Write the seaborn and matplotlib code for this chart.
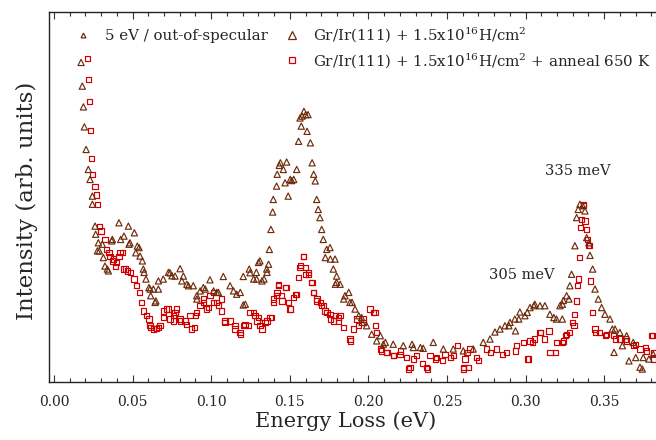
import matplotlib
matplotlib.use('Agg')
import matplotlib.pyplot as plt
import numpy as np
import pandas as pd
import seaborn as sns
from matplotlib.lines import Line2D
from matplotlib.ticker import MultipleLocator

# energy loss (eV) and intensity (arb. units)
h_x = [0.0172, 0.0180, 0.0187, 0.0193, 0.0204, 0.0218, 0.0229, 0.0244, 0.0244, 0.0261,
       0.0265, 0.0276, 0.0282, 0.0288, 0.0307, 0.0314, 0.0324, 0.0339, 0.0346, 0.0367,
       0.0371, 0.0413, 0.0424, 0.0445, 0.0473, 0.0477, 0.0483, 0.0511, 0.0520, 0.0530,
       0.0541, 0.0547, 0.0562, 0.0568, 0.0573, 0.0585, 0.0604, 0.0611, 0.0615, 0.0632,
       0.0643, 0.0648, 0.0664, 0.0664, 0.0695, 0.0728, 0.0738, 0.0750, 0.0770, 0.0802,
       0.0813, 0.0823, 0.0845, 0.0855, 0.0886, 0.0908, 0.0909, 0.0930, 0.0950, 0.0962,
       0.0992, 0.1015, 0.1035, 0.1046, 0.1077, 0.1120, 0.1142, 0.1162, 0.1185, 0.1204,
       0.1204, 0.1217, 0.1242, 0.1247, 0.1270, 0.1287, 0.1289, 0.1301, 0.1310, 0.1323,
       0.1336, 0.1353, 0.1355, 0.1365, 0.1370, 0.1380, 0.1391, 0.1395, 0.1416, 0.1420,
       0.1433, 0.1440, 0.1459, 0.1470, 0.1480, 0.1490, 0.1503, 0.1512, 0.1525, 0.1544,
       0.1556, 0.1565, 0.1573, 0.1578, 0.1590, 0.1601, 0.1610, 0.1616, 0.1631, 0.1642,
       0.1652, 0.1662, 0.1671, 0.1681, 0.1692, 0.1703, 0.1713, 0.1726, 0.1735, 0.1756,
       0.1758, 0.1777, 0.1788, 0.1790, 0.1798, 0.1798, 0.1820, 0.1843, 0.1851, 0.1875,
       0.1883, 0.1896, 0.1915, 0.1939, 0.1957, 0.1960, 0.1989, 0.2021, 0.2053, 0.2076,
       0.2095, 0.2108, 0.2158, 0.2222, 0.2278, 0.2286, 0.2331, 0.2349, 0.2413, 0.2477,
       0.2540, 0.2604, 0.2667, 0.2731, 0.2774, 0.2805, 0.2837, 0.2869, 0.2894, 0.2901,
       0.2932, 0.2936, 0.2957, 0.2964, 0.2996, 0.3011, 0.3028, 0.3053, 0.3059, 0.3092,
       0.3123, 0.3155, 0.3180, 0.3197, 0.3219, 0.3234, 0.3234, 0.3240, 0.3261, 0.3276,
       0.3282, 0.3293, 0.3314, 0.3325, 0.3335, 0.3346, 0.3363, 0.3378, 0.3389, 0.3403,
       0.3410, 0.3427, 0.3442, 0.3463, 0.3484, 0.3505, 0.3537, 0.3552, 0.3563, 0.3569,
       0.3600, 0.3616, 0.3643, 0.3658, 0.3685, 0.3701, 0.3728, 0.3743, 0.3749, 0.3785,
       0.3812]
h_y = [86.3, 79.9, 74.3, 68.9, 62.8, 57.4, 54.7, 50.2, 48.0, 42.1,
       39.9, 35.4, 37.6, 35.4, 37.2, 33.6, 31.3, 30.5, 30.0, 38.1,
       38.5, 43.0, 38.5, 39.4, 42.1, 37.2, 37.6, 40.3, 34.9, 36.7,
       36.3, 34.0, 32.7, 30.5, 29.6, 27.8, 25.5, 25.1, 23.3, 25.1,
       21.5, 21.9, 27.3, 25.1, 27.8, 29.6, 29.5, 28.7, 28.6, 30.6,
       27.3, 28.6, 26.4, 26.0, 26.0, 23.3, 22.4, 24.6, 25.5, 25.1,
       27.6, 24.6, 24.2, 24.2, 28.5, 26.0, 24.6, 23.7, 24.2, 20.8,
       28.5, 21.0, 30.5, 29.5, 27.8, 29.6, 27.8, 32.3, 32.7, 27.3,
       27.8, 30.5, 29.6, 31.8, 35.8, 41.2, 45.9, 49.3, 52.9, 56.1,
       58.5, 59.2, 57.4, 53.8, 59.4, 50.2, 54.7, 54.4, 54.7, 57.4,
       65.0, 71.3, 69.1, 71.8, 73.1, 72.2, 67.7, 72.2, 64.6, 59.2,
       56.1, 54.3, 49.3, 46.6, 44.4, 41.2, 38.5, 33.6, 35.8, 36.3,
       33.2, 30.5, 33.2, 26.4, 26.9, 28.6, 26.4, 22.4, 23.3, 24.2,
       21.5, 21.5, 19.7, 17.9, 17.4, 16.1, 15.2, 12.9, 11.1, 12.5,
       10.2, 10.7, 10.2, 9.8, 10.2, 9.3, 9.3, 9.1, 10.7, 8.9,
       8.9, 8.4, 8.9, 10.7, 11.6, 13.5, 14.3, 15.2, 15.2, 16.1,
       17.0, 13.8, 17.0, 18.9, 17.9, 18.8, 20.1, 20.6, 21.0, 20.6,
       20.6, 18.3, 17.4, 17.0, 20.6, 21.0, 17.0, 22.0, 23.3, 22.4,
       26.0, 29.1, 36.8, 44.4, 46.6, 48.0, 47.6, 46.2, 39.0, 37.6,
       34.2, 30.5, 25.1, 22.4, 20.1, 18.3, 17.0, 14.3, 8.0, 14.3,
       13.4, 9.8, 12.5, 5.7, 10.7, 6.6, 4.0, 3.5, 6.6, 6.2,
       7.5]

a_x = [0.0212, 0.0218, 0.0225, 0.0233, 0.0240, 0.0246, 0.0261, 0.0271, 0.0278, 0.0288,
       0.0299, 0.0324, 0.0335, 0.0350, 0.0356, 0.0371, 0.0377, 0.0392, 0.0399, 0.0413,
       0.0420, 0.0435, 0.0441, 0.0456, 0.0466, 0.0488, 0.0509, 0.0526, 0.0543, 0.0558,
       0.0568, 0.0590, 0.0604, 0.0611, 0.0615, 0.0632, 0.0653, 0.0664, 0.0674, 0.0695,
       0.0696, 0.0717, 0.0728, 0.0738, 0.0759, 0.0759, 0.0770, 0.0780, 0.0802, 0.0803,
       0.0833, 0.0845, 0.0865, 0.0877, 0.0893, 0.0898, 0.0908, 0.0929, 0.0950, 0.0951,
       0.0971, 0.0983, 0.0992, 0.1013, 0.1015, 0.1036, 0.1045, 0.1067, 0.1067, 0.1088,
       0.1088, 0.1120, 0.1151, 0.1152, 0.1183, 0.1184, 0.1205, 0.1215, 0.1237, 0.1247,
       0.1270, 0.1279, 0.1291, 0.1302, 0.1310, 0.1323, 0.1342, 0.1355, 0.1374, 0.1386,
       0.1395, 0.1397, 0.1416, 0.1418, 0.1427, 0.1429, 0.1448, 0.1450, 0.1471, 0.1476,
       0.1493, 0.1501, 0.1503, 0.1522, 0.1535, 0.1544, 0.1554, 0.1565, 0.1567, 0.1586,
       0.1588, 0.1599, 0.1601, 0.1618, 0.1620, 0.1640, 0.1641, 0.1650, 0.1652, 0.1671,
       0.1673, 0.1694, 0.1703, 0.1715, 0.1724, 0.1737, 0.1756, 0.1758, 0.1777, 0.1790,
       0.1809, 0.1811, 0.1820, 0.1843, 0.1883, 0.1885, 0.1906, 0.1926, 0.1939, 0.1968,
       0.1970, 0.2010, 0.2034, 0.2042, 0.2045, 0.2053, 0.2076, 0.2085, 0.2116, 0.2119,
       0.2158, 0.2161, 0.2201, 0.2204, 0.2244, 0.2257, 0.2265, 0.2289, 0.2307, 0.2342,
       0.2371, 0.2374, 0.2392, 0.2427, 0.2434, 0.2470, 0.2487, 0.2522, 0.2540, 0.2565,
       0.2604, 0.2607, 0.2615, 0.2628, 0.2638, 0.2646, 0.2689, 0.2702, 0.2753, 0.2777,
       0.2816, 0.2852, 0.2879, 0.2936, 0.2943, 0.2985, 0.3011, 0.3017, 0.3028, 0.3043,
       0.3059, 0.3092, 0.3096, 0.3123, 0.3149, 0.3155, 0.3191, 0.3197, 0.3234, 0.3240,
       0.3255, 0.3261, 0.3282, 0.3299, 0.3308, 0.3314, 0.3325, 0.3329, 0.3335, 0.3342,
       0.3351, 0.3357, 0.3367, 0.3371, 0.3378, 0.3389, 0.3395, 0.3403, 0.3406, 0.3414,
       0.3427, 0.3442, 0.3446, 0.3473, 0.3510, 0.3516, 0.3558, 0.3573, 0.3600, 0.3637,
       0.3643, 0.3685, 0.3701, 0.3728, 0.3764, 0.3770, 0.3802, 0.3806, 0.3812, 0.3817]
a_y = [87.3, 81.8, 75.8, 67.9, 60.3, 56.1, 52.9, 50.5, 48.0, 42.1,
       40.8, 38.5, 35.8, 34.9, 34.0, 32.7, 33.2, 31.3, 32.2, 34.0,
       34.9, 34.9, 30.5, 30.5, 30.0, 29.5, 27.8, 26.0, 24.2, 21.5,
       19.2, 17.9, 17.0, 15.2, 14.7, 14.3, 14.4, 14.7, 15.2, 17.4,
       19.2, 19.7, 19.7, 17.0, 17.9, 16.5, 18.8, 19.7, 17.0, 16.5,
       16.5, 15.6, 17.9, 14.3, 14.7, 17.9, 18.8, 20.6, 21.5, 22.4,
       19.7, 20.1, 23.3, 21.5, 24.2, 21.5, 20.6, 19.2, 22.4, 16.1,
       16.5, 16.5, 15.2, 14.3, 13.4, 12.9, 15.2, 15.6, 15.2, 18.8,
       18.8, 17.9, 16.5, 17.4, 15.2, 14.3, 16.1, 16.5, 17.4, 17.4,
       21.5, 22.4, 23.3, 24.2, 26.0, 26.4, 23.3, 21.9, 25.5, 25.5,
       21.5, 19.7, 19.7, 22.8, 23.7, 23.7, 28.2, 30.9, 31.4, 33.8,
       34.0, 29.1, 30.9, 29.1, 29.5, 26.9, 26.9, 24.2, 24.2, 21.9,
       22.4, 21.5, 20.6, 20.6, 19.2, 18.8, 18.3, 17.0, 16.5, 17.9,
       17.4, 16.5, 17.9, 14.7, 11.6, 11.1, 14.3, 17.0, 15.2, 16.1,
       17.0, 19.7, 18.8, 18.8, 15.2, 13.4, 8.9, 8.4, 8.0, 8.0,
       7.1, 7.1, 7.5, 8.4, 6.6, 3.5, 4.0, 6.2, 7.1, 4.9,
       4.0, 3.5, 7.1, 6.2, 6.6, 5.7, 7.5, 6.6, 7.1, 9.8,
       4.0, 3.5, 6.2, 8.0, 4.0, 8.9, 6.6, 5.7, 8.9, 8.0,
       8.9, 7.5, 8.0, 8.4, 9.8, 10.7, 6.2, 6.2, 11.1, 10.7,
       11.6, 13.4, 13.4, 11.6, 13.8, 8.0, 8.0, 10.7, 10.7, 11.1,
       12.5, 12.9, 13.4, 16.1, 15.2, 18.3, 21.9, 26.0, 27.8, 33.6,
       41.7, 43.8, 48.0, 47.6, 43.5, 41.2, 38.5, 36.8, 36.8, 27.3,
       18.8, 14.3, 13.4, 13.4, 12.5, 12.9, 12.5, 11.6, 11.6, 11.6,
       11.1, 9.8, 10.2, 8.9, 9.3, 8.4, 12.5, 12.5, 6.2, 8.0]

label_h = r'Gr/Ir(111) + 1.5x10$^{16}$H/cm$^{2}$'
label_a = r'Gr/Ir(111) + 1.5x10$^{16}$H/cm$^{2}$ + anneal 650 K'
brown = '#6e2c0c'
red = '#d10000'

sns.set_style('ticks')
plt.rcParams['font.family'] = ['DejaVu Serif']
plt.rcParams['mathtext.fontset'] = 'dejavuserif'

df_h = pd.DataFrame({'E': h_x, 'I': h_y})
df_a = pd.DataFrame({'E': a_x, 'I': a_y})

fig = plt.figure(figsize=(6.56, 4.40), dpi=100)
ax = fig.add_axes([0.0747, 0.1318, 0.9253, 0.8416])

sns.scatterplot(data=df_h, x='E', y='I', ax=ax, marker='^', s=20,
                facecolor='none', edgecolor=brown, linewidth=0.85, zorder=3)
sns.scatterplot(data=df_a, x='E', y='I', ax=ax, marker='s', s=14,
                facecolor='none', edgecolor=red, linewidth=0.85, zorder=2)

ax.set_xlim(-0.0032, 0.383)
ax.set_ylim(0, 100)
ax.xaxis.set_major_locator(MultipleLocator(0.05))
ax.xaxis.set_minor_locator(MultipleLocator(0.01))
ax.xaxis.set_major_formatter(matplotlib.ticker.FormatStrFormatter('%.2f'))
ax.tick_params(axis='x', which='both', direction='in', top=True, bottom=True,
               labelsize=10, width=0.8, color='#333333', pad=9)
ax.tick_params(axis='x', which='major', length=5)
ax.tick_params(axis='x', which='minor', length=3)
ax.set_yticks([])
ax.spines['right'].set_visible(False)
for s in ['left', 'bottom', 'top']:
    ax.spines[s].set_linewidth(1.0)
    ax.spines[s].set_color('#222222')

ax.set_xlabel('Energy Loss (eV)', fontsize=15)
ax.xaxis.set_label_coords(0.488, -0.078)
ax.set_ylabel('Intensity (arb. units)', fontsize=16.5)
ax.yaxis.set_label_coords(-0.018, 0.49)

ax.text(0.3333, 56.9, '335 meV', ha='center', va='center', fontsize=10.5)
ax.text(0.2977, 28.8, '305 meV', ha='center', va='center', fontsize=10.5)

handles = [
    Line2D([], [], ls='none', marker='^', ms=3.5, mfc='none', mec=brown, mew=0.9),
    Line2D([], [], ls='none'),
    Line2D([], [], ls='none', marker='^', ms=5.5, mfc='none', mec=brown, mew=0.9),
    Line2D([], [], ls='none', marker='s', ms=4.5, mfc='none', mec=red, mew=0.9),
]
labels = ['5 eV / out-of-specular', '', label_h, label_a]
ax.legend(handles, labels, ncol=2, loc='upper left', frameon=False, fontsize=10.8,
          bbox_to_anchor=(0.019, 1.0), handlelength=1.2, handletextpad=0.85,
          columnspacing=1.0, labelspacing=0.45)

fig.savefig('out.png', dpi=100)
